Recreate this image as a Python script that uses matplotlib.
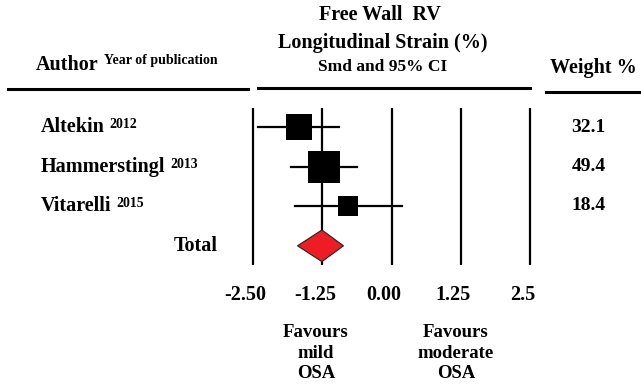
import numpy as np
import matplotlib
matplotlib.use("Agg")
import matplotlib.pyplot as plt
from matplotlib.lines import Line2D
from matplotlib.patches import Polygon
from matplotlib.transforms import offset_copy


# -------------------------
# DATA
# -------------------------
authors = ["Altekin", "Hammerstingl", "Vitarelli"]
years = ["2012", "2013", "2015"]
smd = [-1.68, -1.23, -0.78]
ci_low = [-2.41, -1.82, -1.75]
ci_high = [-0.96, -0.63, 0.18]
weights = [32.1, 49.4, 18.4]

total_smd = -1.26
total_low = -1.70
total_high = -0.87

ticks = [-2.5, -1.25, 0.0, 1.25, 2.5]
tick_labels = ["-2.50", "-1.25", "0.00", "1.25", "2.5"]


# -------------------------
# FIGURE
# -------------------------
W, H = 641, 388
plt.rcParams["font.family"] = ["Liberation Serif", "DejaVu Serif"]
plt.rcParams["font.weight"] = "bold"

fig = plt.figure(figsize=(W / 100, H / 100), dpi=100)
ax = fig.add_axes([0, 0, 1, 1])
ax.axis("off")

# x: 0 at pixel 391.7, 55.4 px per unit; y: rows 39.5 px apart, row 0 at 127.3 px
x0, xs = 391.7, 55.4
y0, ys = 127.3, 39.5
ax.set_xlim(-x0 / xs, (W - x0) / xs)
ax.set_ylim((H - y0) / ys, -y0 / ys)


def fx(px):
    return px / W


def fy(py):
    return 1 - py / H


# vertical reference lines
for t in ticks:
    ax.plot([t, t], [-0.49, 3.49], color="black", lw=1.6, solid_capstyle="butt")

# studies
for i in range(len(authors)):
    ax.plot([ci_low[i], ci_high[i]], [i, i], color="black", lw=1.6)
    side_px = 32 * np.sqrt(weights[i] / max(weights))
    ax.plot(smd[i], i, marker="s", color="black", markersize=side_px * 0.72,
            markeredgewidth=0)

# total diamond
row_t = len(authors)
diamond = Polygon([[total_low, row_t], [total_smd, row_t - 0.4],
                   [total_high, row_t], [total_smd, row_t + 0.4]],
                  closed=True, facecolor="#ee1c24", edgecolor="#222222", lw=0.8, zorder=3)
ax.add_patch(diamond)

# tick labels (sit a little left of their lines in the original)
tick_tr = offset_copy(ax.transData, fig=fig, x=-7.5, y=0, units="dots")
for t, lab in zip(ticks, tick_labels):
    ax.text(t, (295 - y0) / ys, lab, ha="center", va="center", fontsize=14.5,
            transform=tick_tr)

# study labels and weights
for i in range(len(authors)):
    txt = ax.text(-(x0 - 41) / xs, i, authors[i], ha="left", va="center", fontsize=14.5)
    fig.canvas.draw()
    bb = txt.get_window_extent()
    ax.annotate(years[i], xy=(bb.x1 + 5, bb.y1 - 1), xycoords="figure pixels",
                ha="left", va="top", fontsize=10)
    fig.text(fx(588.5), fy(128 + i * 38.5), f"{weights[i]:.1f}", ha="center",
             va="center", fontsize=14)

ax.text(-(x0 - 218) / xs, row_t, "Total", ha="right", va="center", fontsize=14.5)

# headers
fig.text(fx(380), fy(15), "Free Wall  RV", ha="center", va="center", fontsize=14.5)
fig.text(fx(382.5), fy(43), "Longitudinal Strain (%)", ha="center", va="center",
         fontsize=14.5)
fig.text(fx(382.5), fy(67), "Smd and 95% CI", ha="center", va="center", fontsize=12.5)
author = fig.text(fx(36), fy(65), "Author", ha="left", va="center", fontsize=14.5)
fig.canvas.draw()
ab = author.get_window_extent()
fig.text((ab.x1 + 5) / W, (ab.y1 + 1) / H, "Year of publication", ha="left", va="top",
         fontsize=10)
fig.text(fx(593), fy(68), "Weight %", ha="center", va="center", fontsize=14.5)

# header rules
for (xa, xb, yy) in [(8, 248, 89), (258, 530, 88), (546, 641, 91.5)]:
    fig.add_artist(Line2D([fx(xa), fx(xb)], [fy(yy), fy(yy)], color="black", lw=2.2,
                          transform=fig.transFigure))

# favours labels
fig.text(fx(316), fy(353), "Favours\nmild\nOSA", ha="center", va="center",
         fontsize=13.5, linespacing=1.25)
fig.text(fx(456), fy(353), "Favours\nmoderate\nOSA", ha="center", va="center",
         fontsize=13.5, linespacing=1.25)

fig.savefig("out.png", dpi=100)
